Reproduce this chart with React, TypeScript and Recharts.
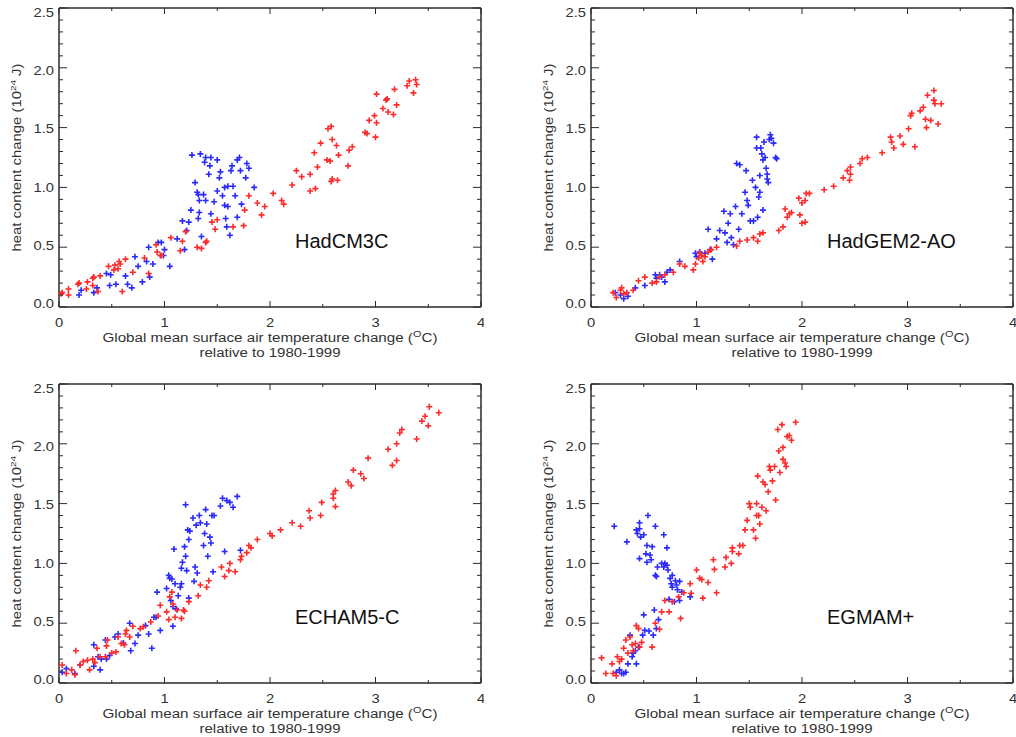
import React from 'react';
import { ScatterChart, Scatter, XAxis, YAxis } from 'recharts';

// axis ticks (major + minor)
const xTicks = [0, 0.5, 1, 1.5, 2, 2.5, 3, 3.5, 4];
const yTicks = [0, 0.1, 0.2, 0.3, 0.4, 0.5, 0.6, 0.7, 0.8, 0.9, 1, 1.1, 1.2, 1.3, 1.4, 1.5, 1.6, 1.7, 1.8, 1.9, 2, 2.1, 2.2, 2.3, 2.4, 2.5];
const xMajor = [0, 1, 2, 3, 4];
const yMajor = [0, 0.5, 1, 1.5, 2, 2.5];

// HadCM3C
const hadcm3cRed: [number, number][] = [
  [0.02, 0.11], [0.03, 0.12], [0.09, 0.1], [0.09, 0.15], [0.18, 0.19], [0.19, 0.2], [0.26, 0.15], [0.27, 0.21],
  [0.32, 0.24], [0.33, 0.25], [0.32, 0.18], [0.37, 0.13], [0.39, 0.26], [0.47, 0.34], [0.52, 0.31], [0.53, 0.35],
  [0.56, 0.32], [0.57, 0.38], [0.58, 0.36], [0.6, 0.13], [0.63, 0.4], [0.7, 0.29], [0.81, 0.41], [0.85, 0.28],
  [0.92, 0.52], [0.93, 0.46], [0.96, 0.43], [0.97, 0.43], [1.06, 0.58], [1.15, 0.47], [1.17, 0.55], [1.2, 0.63],
  [1.31, 0.5], [1.35, 0.49], [1.39, 0.54], [1.4, 0.55], [1.45, 0.71], [1.48, 0.65], [1.5, 0.73], [1.65, 0.67],
  [1.75, 0.68], [1.76, 0.81], [1.8, 0.93], [1.88, 0.87], [1.92, 0.77], [1.95, 0.84], [2.03, 0.95], [2.11, 0.89],
  [2.13, 0.86], [2.21, 1.02], [2.25, 1.14], [2.3, 1.09], [2.38, 1.11], [2.38, 0.97], [2.43, 0.99], [2.42, 1.29],
  [2.45, 1.17], [2.48, 1.37], [2.54, 1.23], [2.55, 1.49], [2.58, 1.51], [2.57, 1.22], [2.59, 1.4], [2.59, 1.07],
  [2.58, 1.05], [2.63, 1.35], [2.65, 1.27], [2.64, 1.06], [2.74, 1.18], [2.75, 1.31], [2.78, 1.34], [2.9, 1.46],
  [2.92, 1.45], [2.94, 1.56], [2.99, 1.6], [3.0, 1.42], [3.01, 1.54], [3.01, 1.78], [3.07, 1.66], [3.1, 1.73],
  [3.11, 1.74], [3.12, 1.63], [3.17, 1.61], [3.18, 1.82], [3.2, 1.69], [3.3, 1.85], [3.32, 1.89], [3.36, 1.79],
  [3.38, 1.9], [3.39, 1.86],
];
const hadcm3cBlue: [number, number][] = [
  [0.19, 0.1], [0.21, 0.14], [0.33, 0.12], [0.36, 0.16], [0.45, 0.28], [0.48, 0.18], [0.49, 0.27], [0.54, 0.19],
  [0.63, 0.26], [0.65, 0.19], [0.69, 0.16], [0.72, 0.42], [0.75, 0.34], [0.79, 0.21], [0.83, 0.38], [0.85, 0.5],
  [0.86, 0.25], [0.89, 0.36], [0.94, 0.54], [0.97, 0.54], [0.99, 0.43], [1.0, 0.48], [1.05, 0.34], [1.12, 0.57],
  [1.17, 0.72], [1.19, 0.48], [1.21, 0.64], [1.23, 0.71], [1.25, 0.81], [1.26, 1.27], [1.29, 1.04], [1.31, 0.96],
  [1.32, 0.94], [1.32, 0.74], [1.33, 0.79], [1.33, 0.89], [1.34, 1.28], [1.35, 0.59], [1.37, 0.94], [1.38, 1.21],
  [1.39, 1.25], [1.39, 0.89], [1.42, 1.11], [1.43, 1.18], [1.44, 1.25], [1.44, 0.78], [1.47, 0.88], [1.5, 0.97],
  [1.5, 1.23], [1.52, 1.08], [1.53, 1.13], [1.55, 0.93], [1.57, 0.85], [1.57, 1.0], [1.58, 0.74], [1.59, 0.67],
  [1.6, 1.01], [1.6, 0.84], [1.62, 0.6], [1.63, 1.14], [1.64, 1.18], [1.65, 1.01], [1.67, 0.93], [1.69, 0.75],
  [1.69, 1.23], [1.71, 1.25], [1.72, 1.14], [1.73, 0.86], [1.77, 1.08], [1.78, 1.2], [1.8, 1.16], [1.85, 1.0],
];

// HadGEM2-AO
const hadgem2Red: [number, number][] = [
  [0.21, 0.12], [0.24, 0.08], [0.28, 0.14], [0.29, 0.16], [0.31, 0.11], [0.34, 0.12], [0.4, 0.14], [0.45, 0.22],
  [0.51, 0.25], [0.58, 0.2], [0.62, 0.21], [0.65, 0.25], [0.7, 0.27], [0.78, 0.29], [0.84, 0.36], [0.89, 0.34],
  [0.97, 0.31], [0.99, 0.36], [1.02, 0.41], [1.03, 0.45], [1.05, 0.43], [1.06, 0.38], [1.08, 0.42], [1.11, 0.46],
  [1.14, 0.48], [1.19, 0.5], [1.38, 0.51], [1.41, 0.55], [1.48, 0.56], [1.54, 0.58], [1.58, 0.55], [1.6, 0.61],
  [1.63, 0.62], [1.78, 0.64], [1.82, 0.67], [1.84, 0.82], [1.86, 0.75], [1.88, 0.78], [1.9, 0.79], [1.98, 0.77],
  [2.0, 0.7], [2.03, 0.71], [1.97, 0.91], [2.0, 0.87], [2.03, 0.89], [2.04, 0.95], [2.07, 0.95], [2.21, 0.98],
  [2.3, 1.01], [2.39, 1.08], [2.43, 1.14], [2.45, 1.06], [2.46, 1.11], [2.46, 1.17], [2.55, 1.2], [2.57, 1.24],
  [2.62, 1.25], [2.76, 1.29], [2.84, 1.42], [2.85, 1.38], [2.87, 1.33], [2.93, 1.43], [2.96, 1.36], [3.01, 1.49],
  [3.03, 1.6], [3.04, 1.62], [3.07, 1.34], [3.12, 1.64], [3.15, 1.67], [3.17, 1.57], [3.18, 1.5], [3.19, 1.77],
  [3.22, 1.56], [3.25, 1.73], [3.25, 1.81], [3.26, 1.7], [3.29, 1.53], [3.32, 1.7],
];
const hadgem2Blue: [number, number][] = [
  [0.23, 0.12], [0.28, 0.1], [0.31, 0.07], [0.35, 0.09], [0.42, 0.16], [0.51, 0.18], [0.61, 0.27], [0.62, 0.24],
  [0.65, 0.27], [0.67, 0.25], [0.7, 0.21], [0.72, 0.29], [0.75, 0.31], [0.84, 0.38], [0.99, 0.45], [1.0, 0.42],
  [1.03, 0.46], [1.08, 0.45], [1.11, 0.65], [1.13, 0.48], [1.15, 0.4], [1.19, 0.57], [1.22, 0.64], [1.26, 0.8],
  [1.27, 0.62], [1.29, 0.54], [1.3, 0.7], [1.32, 0.78], [1.33, 0.58], [1.35, 0.52], [1.37, 0.84], [1.38, 1.2],
  [1.4, 0.65], [1.41, 1.19], [1.43, 0.78], [1.46, 0.96], [1.47, 1.14], [1.48, 0.89], [1.49, 0.85], [1.51, 0.72],
  [1.53, 1.06], [1.54, 0.72], [1.56, 1.0], [1.57, 1.42], [1.57, 1.33], [1.58, 0.75], [1.59, 0.92], [1.6, 1.1],
  [1.6, 0.96], [1.61, 1.33], [1.62, 1.28], [1.63, 1.23], [1.63, 0.81], [1.64, 1.38], [1.65, 1.25], [1.66, 1.16],
  [1.67, 1.11], [1.67, 1.07], [1.68, 1.04], [1.69, 1.4], [1.7, 1.44], [1.71, 1.41], [1.73, 1.37], [1.75, 1.25],
  [1.76, 1.24],
];

// ECHAM5-C
const echam5Red: [number, number][] = [
  [0.03, 0.15], [0.07, 0.08], [0.12, 0.11], [0.15, 0.07], [0.16, 0.27], [0.2, 0.15], [0.23, 0.18], [0.27, 0.19],
  [0.29, 0.11], [0.32, 0.2], [0.34, 0.17], [0.36, 0.29], [0.39, 0.22], [0.44, 0.22], [0.45, 0.31], [0.46, 0.36],
  [0.5, 0.25], [0.54, 0.26], [0.56, 0.385], [0.59, 0.33], [0.62, 0.32], [0.63, 0.41], [0.64, 0.44], [0.67, 0.385],
  [0.7, 0.475], [0.77, 0.455], [0.8, 0.47], [0.87, 0.51], [0.94, 0.56], [0.96, 0.65], [1.02, 0.595], [1.04, 0.53],
  [1.05, 0.72], [1.07, 0.76], [1.08, 0.66], [1.1, 0.55], [1.12, 0.61], [1.16, 0.54], [1.18, 0.61], [1.19, 0.6],
  [1.23, 0.68], [1.32, 0.73], [1.34, 0.82], [1.4, 0.8], [1.42, 0.855], [1.54, 0.97], [1.57, 0.89], [1.62, 1.0],
  [1.61, 0.94], [1.67, 0.93], [1.72, 1.03], [1.73, 1.06], [1.78, 1.09], [1.8, 1.15], [1.82, 1.13], [1.88, 1.2],
  [2.0, 1.25], [2.02, 1.23], [2.1, 1.28], [2.21, 1.34], [2.29, 1.31], [2.37, 1.44], [2.38, 1.38], [2.48, 1.4],
  [2.49, 1.51], [2.6, 1.545], [2.6, 1.58], [2.62, 1.61], [2.62, 1.475], [2.74, 1.68], [2.77, 1.65], [2.79, 1.78],
  [2.86, 1.75], [2.89, 1.71], [2.93, 1.88], [3.12, 1.955], [3.16, 1.82], [3.2, 1.86], [3.2, 2.0], [3.23, 2.09],
  [3.25, 2.12], [3.39, 2.04], [3.44, 2.19], [3.47, 2.23], [3.5, 2.15], [3.51, 2.31], [3.6, 2.26],
];
const echam5Blue: [number, number][] = [
  [0.03, 0.09], [0.07, 0.12], [0.15, 0.08], [0.2, 0.15], [0.33, 0.14], [0.33, 0.32], [0.37, 0.22], [0.39, 0.11],
  [0.4, 0.2], [0.45, 0.2], [0.44, 0.36], [0.48, 0.23], [0.53, 0.385], [0.56, 0.41], [0.61, 0.335], [0.67, 0.5],
  [0.68, 0.27], [0.72, 0.33], [0.75, 0.4], [0.82, 0.48], [0.85, 0.41], [0.88, 0.29], [0.9, 0.55], [0.92, 0.55],
  [0.93, 0.76], [0.96, 0.44], [1.02, 0.79], [1.04, 0.9], [1.05, 0.875], [1.06, 0.69], [1.07, 0.87], [1.08, 0.475],
  [1.09, 1.12], [1.08, 0.64], [1.1, 0.83], [1.11, 0.62], [1.13, 0.73], [1.15, 0.8], [1.16, 0.83], [1.16, 0.96],
  [1.17, 1.01], [1.19, 1.14], [1.2, 1.06], [1.2, 1.49], [1.21, 0.94], [1.22, 1.28], [1.23, 1.2], [1.23, 0.71],
  [1.24, 1.27], [1.27, 1.38], [1.28, 0.85], [1.29, 0.97], [1.3, 1.32], [1.31, 0.92], [1.33, 1.4], [1.34, 1.34],
  [1.37, 1.15], [1.38, 1.25], [1.39, 1.45], [1.4, 1.33], [1.41, 1.06], [1.43, 1.22], [1.44, 1.17], [1.45, 1.4],
  [1.46, 0.93], [1.47, 1.4], [1.53, 1.48], [1.55, 1.545], [1.57, 1.1], [1.59, 1.525], [1.62, 1.51], [1.65, 1.47],
  [1.69, 1.56], [1.72, 1.11],
];

// EGMAM+
const egmamRed: [number, number][] = [
  [0.1, 0.21], [0.14, 0.08], [0.2, 0.16], [0.21, 0.08], [0.24, 0.06], [0.25, 0.22], [0.27, 0.18], [0.29, 0.2],
  [0.31, 0.29], [0.33, 0.36], [0.35, 0.25], [0.37, 0.385], [0.39, 0.32], [0.4, 0.27], [0.42, 0.33], [0.43, 0.48],
  [0.45, 0.455], [0.46, 0.3], [0.48, 0.34], [0.58, 0.3], [0.61, 0.5], [0.65, 0.45], [0.67, 0.595], [0.7, 0.69],
  [0.74, 0.595], [0.77, 0.68], [0.83, 0.72], [0.85, 0.54], [0.88, 0.755], [0.94, 0.83], [0.95, 0.75], [1.0, 0.945],
  [1.03, 0.875], [1.05, 0.865], [1.06, 0.71], [1.11, 0.84], [1.16, 1.03], [1.17, 0.95], [1.19, 0.755], [1.27, 0.97],
  [1.28, 1.05], [1.33, 1.0], [1.34, 1.1], [1.34, 1.13], [1.4, 1.08], [1.41, 1.15], [1.44, 1.15], [1.46, 1.28],
  [1.48, 1.36], [1.5, 1.5], [1.51, 1.47], [1.54, 1.28], [1.56, 1.21], [1.57, 1.5], [1.57, 1.4], [1.58, 1.73],
  [1.59, 1.4], [1.6, 1.33], [1.62, 1.47], [1.63, 1.68], [1.65, 1.66], [1.66, 1.44], [1.68, 1.6], [1.69, 1.81],
  [1.7, 1.78], [1.72, 1.69], [1.74, 1.81], [1.75, 1.53], [1.77, 2.12], [1.78, 1.94], [1.79, 1.76], [1.81, 2.16],
  [1.82, 1.97], [1.82, 1.87], [1.84, 1.84], [1.85, 1.81], [1.86, 2.06], [1.88, 2.07], [1.9, 2.03], [1.94, 2.18],
];
const egmamBlue: [number, number][] = [
  [0.22, 1.31], [0.24, 0.09], [0.27, 0.11], [0.29, 0.08], [0.31, 0.08], [0.33, 0.09], [0.34, 1.18], [0.35, 0.16],
  [0.37, 0.4], [0.39, 0.22], [0.4, 0.25], [0.42, 0.27], [0.43, 1.28], [0.43, 0.16], [0.44, 1.25], [0.45, 0.3],
  [0.46, 1.34], [0.46, 1.04], [0.46, 1.29], [0.47, 1.22], [0.49, 0.4], [0.5, 0.57], [0.5, 1.24], [0.51, 0.44],
  [0.52, 1.08], [0.53, 1.15], [0.53, 1.01], [0.54, 1.4], [0.55, 0.435], [0.56, 1.07], [0.57, 1.03], [0.58, 1.14],
  [0.59, 0.4], [0.6, 0.61], [0.61, 1.31], [0.61, 0.9], [0.62, 0.455], [0.62, 0.89], [0.63, 0.97], [0.64, 0.53],
  [0.67, 1.0], [0.69, 1.24], [0.69, 0.97], [0.7, 1.0], [0.72, 1.13], [0.72, 0.985], [0.73, 0.945], [0.74, 0.7],
  [0.75, 0.875], [0.76, 0.83], [0.77, 0.9], [0.77, 0.8], [0.79, 0.68], [0.8, 0.855], [0.81, 0.82], [0.82, 0.78],
  [0.84, 0.85], [0.84, 0.69], [0.86, 0.76], [0.94, 0.72],
];

const RED = '#ff2a2a';
const BLUE = '#2a2aff';
const FRAME = '#2a2a2a';
const TEXT = '#333';
const FONT = '"Liberation Sans", Arial, Helvetica, sans-serif';
const SX = 1.18; // the original lettering is a bit wider than Arial

const panels = [
  { name: 'HadCM3C', red: hadcm3cRed, blue: hadcm3cBlue, left: 59, top: 7.5, w: 422, h: 299 },
  { name: 'HadGEM2-AO', red: hadgem2Red, blue: hadgem2Blue, left: 591, top: 7.5, w: 422, h: 299 },
  { name: 'ECHAM5-C', red: echam5Red, blue: echam5Blue, left: 59, top: 384, w: 422, h: 299 },
  { name: 'EGMAM+', red: egmamRed, blue: egmamBlue, left: 591, top: 384, w: 422, h: 299 },
];

const M = { left: 60, top: 10, right: 3, bottom: 60 };

const isIn = (list: number[], v: number) => list.some((m) => Math.abs(m - v) < 1e-6);

const LeftTick = (props: any) => {
  const { x, y, payload } = props;
  const major = isIn(yMajor, payload.value);
  // the labels sit a little closer to the middle of the axis than their ticks
  const shift = -3.4 + payload.value * 3.1;
  return (
    <g>
      <line x1={x} y1={y} x2={x + (major ? 8 : 4)} y2={y} stroke={FRAME} strokeWidth={1} />
      {major && (
        <text transform={`translate(${x - 5},${y + shift + 4.5}) scale(${SX},1)`} textAnchor="end" fontSize={12.5} fill={TEXT} fontFamily={FONT}>
          {payload.value.toFixed(1)}
        </text>
      )}
    </g>
  );
};

const RightTick = (props: any) => {
  const { x, y, payload } = props;
  const major = isIn(yMajor, payload.value);
  return <line x1={x} y1={y} x2={x - (major ? 8 : 4)} y2={y} stroke={FRAME} strokeWidth={1} />;
};

const BottomTick = (props: any) => {
  const { x, y, payload } = props;
  const major = isIn(xMajor, payload.value);
  return (
    <g>
      <line x1={x} y1={y} x2={x} y2={y - (major ? 6 : 3)} stroke={FRAME} strokeWidth={1} />
      {major && (
        <text transform={`translate(${x},${y + 19.5}) scale(${SX},1)`} textAnchor="middle" fontSize={12.5} fill={TEXT} fontFamily={FONT}>
          {payload.value}
        </text>
      )}
    </g>
  );
};

const TopTick = (props: any) => {
  const { x, y, payload } = props;
  const major = isIn(xMajor, payload.value);
  return <line x1={x} y1={y} x2={x} y2={y + (major ? 6 : 3)} stroke={FRAME} strokeWidth={1} />;
};

const plus = (color: string) => (props: any) => {
  const { cx, cy } = props;
  return <path d={`M${cx - 3},${cy}h6M${cx},${cy - 3}v6`} stroke={color} strokeWidth={1.6} fill="none" />;
};

const axisLine = { stroke: FRAME, strokeWidth: 1.5 };

function Panel({ p }: { p: (typeof panels)[number] }) {
  const width = p.w + M.left + M.right;
  const height = p.h + M.top + M.bottom;
  const red = p.red.map(([x, y]) => ({ x, y }));
  const blue = p.blue.map(([x, y]) => ({ x, y }));
  const cx = M.left + p.w / 2;
  const cy = M.top + p.h / 2;
  const bottom = M.top + p.h;
  return (
    <div style={{ position: 'absolute', left: p.left - M.left, top: p.top - M.top, width, height }}>
      <ScatterChart width={width} height={height} margin={{ top: M.top - 1, right: M.right - 1, left: M.left - 40, bottom: M.bottom - 30 }}>
        <XAxis xAxisId="b" orientation="bottom" type="number" dataKey="x" domain={[0, 4]} ticks={xTicks} interval={0}
          height={30} tickSize={0} tickMargin={0} tickLine={false} axisLine={axisLine} tick={BottomTick} allowDataOverflow />
        <XAxis xAxisId="t" orientation="top" type="number" dataKey="x" domain={[0, 4]} ticks={xTicks} interval={0}
          height={1} tickSize={0} tickMargin={0} tickLine={false} axisLine={axisLine} tick={TopTick} allowDataOverflow />
        <YAxis yAxisId="l" orientation="left" type="number" dataKey="y" domain={[0, 2.5]} ticks={yTicks} interval={0}
          width={40} tickSize={0} tickMargin={0} tickLine={false} axisLine={axisLine} tick={LeftTick} allowDataOverflow />
        <YAxis yAxisId="r" orientation="right" type="number" dataKey="y" domain={[0, 2.5]} ticks={yTicks} interval={0}
          width={1} tickSize={0} tickMargin={0} tickLine={false} axisLine={axisLine} tick={RightTick} allowDataOverflow />
        <Scatter xAxisId="b" yAxisId="l" data={blue} fill={BLUE} shape={plus(BLUE)} isAnimationActive={false} />
        <Scatter xAxisId="b" yAxisId="l" data={red} fill={RED} shape={plus(RED)} isAnimationActive={false} />
      </ScatterChart>
      <svg width={width} height={height} style={{ position: 'absolute', left: 0, top: 0, pointerEvents: 'none' }}>
        <text x={M.left + 236} y={M.top + 239.5} fontSize={20} fill="#111" fontFamily={FONT}>{p.name}</text>
        <text x={cx} y={bottom + 35} textAnchor="middle" fontSize={12.5} fill={TEXT} fontFamily={FONT} textLength={335} lengthAdjust="spacingAndGlyphs">
          Global mean surface air temperature change (<tspan dy={-5} fontSize={9}>O</tspan><tspan dy={5}>C)</tspan>
        </text>
        <text x={cx} y={bottom + 49.5} textAnchor="middle" fontSize={12.5} fill={TEXT} fontFamily={FONT} textLength={141} lengthAdjust="spacingAndGlyphs">
          relative to 1980-1999
        </text>
        <text transform={`translate(${M.left - 38},${cy}) rotate(-90)`} textAnchor="middle" fontSize={12} fill={TEXT} fontFamily={FONT} textLength={188} lengthAdjust="spacingAndGlyphs">
          heat content change (10<tspan dy={-5} fontSize={8}>24</tspan><tspan dy={5}>{'  '}J)</tspan>
        </text>
      </svg>
    </div>
  );
}

export default function App() {
  return (
    <div style={{ position: 'absolute', left: 0, top: 0, width: 1016, height: 737, background: '#fff' }}>
      {panels.map((p) => (
        <Panel key={p.name} p={p} />
      ))}
    </div>
  );
}
